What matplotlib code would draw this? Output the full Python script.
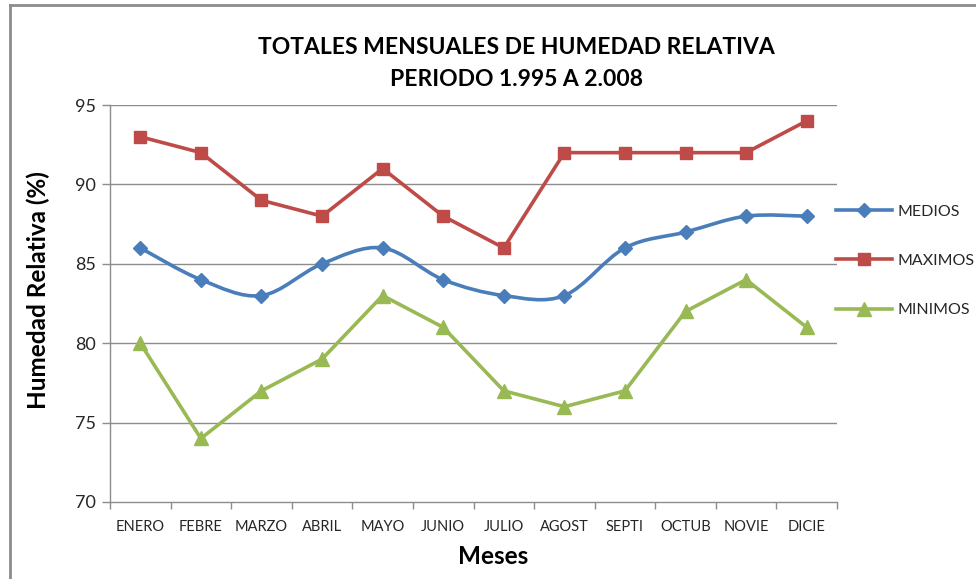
import matplotlib
matplotlib.use("Agg")
import matplotlib.pyplot as plt
import numpy as np
from matplotlib.path import Path
from matplotlib.patches import PathPatch
from matplotlib.lines import Line2D

plt.rcParams['font.family'] = ['Lato', 'DejaVu Sans']

meses = ["ENERO", "FEBRE", "MARZO", "ABRIL", "MAYO", "JUNIO",
         "JULIO", "AGOST", "SEPTI", "OCTUB", "NOVIE", "DICIE"]
medios = [86, 84, 83, 85, 86, 84, 83, 83, 86, 87, 88, 88]
maximos = [93, 92, 89, 88, 91, 88, 86, 92, 92, 92, 92, 94]
minimos = [80, 74, 77, 79, 83, 81, 77, 76, 77, 82, 84, 81]
y_ticks = [70, 75, 80, 85, 90, 95]

c_med = "#4A7EBB"
c_max = "#BE4B48"
c_min = "#98B954"
grid_c = "#8C8C8C"
text_c = "#262626"

fig = plt.figure(figsize=(9.76, 5.79), dpi=100)
ax = fig.add_axes([110 / 976, 1 - 502 / 579, 727 / 976, 397 / 579])

x = np.arange(len(meses))


def smooth_path(xs, ys, t=1 / 6):
    """Cubic Bezier path through the points (Catmull-Rom style control points)."""
    pts = np.column_stack([xs, ys]).astype(float)
    n = len(pts)
    verts = [pts[0]]
    codes = [Path.MOVETO]
    for i in range(n - 1):
        p0 = pts[i - 1] if i > 0 else pts[i]
        p1 = pts[i]
        p2 = pts[i + 1]
        p3 = pts[i + 2] if i + 2 < n else pts[i + 1]
        c1 = p1 + (p2 - p0) * t
        c2 = p2 - (p3 - p1) * t
        verts += [c1, c2, p2]
        codes += [Path.CURVE4] * 3
    return Path(verts, codes)


lw = 2.6
# MEDIOS: smoothed line
ax.add_patch(PathPatch(smooth_path(x, medios), fill=False, edgecolor=c_med,
                       lw=lw, zorder=3, capstyle='round', joinstyle='round'))
ax.plot(x, medios, ls='none', marker='D', ms=7.5, color=c_med, zorder=4)
# MAXIMOS and MINIMOS: straight segments
ax.plot(x, maximos, color=c_max, lw=lw, marker='s', ms=8, zorder=3)
ax.plot(x, minimos, color=c_min, lw=lw, marker='^', ms=9.5, zorder=3)

ax.set_xlim(-0.5, len(meses) - 0.5)
ax.set_ylim(70, 95)
ax.set_yticks(y_ticks)
ax.set_yticklabels([str(v) for v in y_ticks], fontsize=13, color=text_c)
ax.set_xticks(x)
ax.set_xticklabels(meses, fontsize=10.5, color=text_c)
ax.set_xticks(np.arange(-0.5, len(meses), 1), minor=True)
ax.tick_params(axis='x', which='major', length=0, pad=13)
ax.tick_params(axis='x', which='minor', length=5, color=grid_c, width=1)
ax.tick_params(axis='y', length=6, color=grid_c, width=1, pad=4)

for v in y_ticks[1:]:
    ax.axhline(v, color=grid_c, lw=1, zorder=1)

for s in ['top', 'right']:
    ax.spines[s].set_visible(False)
for s in ['left', 'bottom']:
    ax.spines[s].set_color(grid_c)
    ax.spines[s].set_linewidth(1)

fig.text(38 / 976, 1 - 290 / 579, "Humedad Relativa (%)", rotation=90,
         ha='center', va='center', fontsize=17.5, fontweight='bold', color='black')
fig.text(493 / 976, 1 - 557 / 579, "Meses",
         ha='center', va='center', fontsize=17.5, fontweight='bold', color='black')

fig.text(516 / 976, 1 - 48 / 579, "TOTALES MENSUALES DE HUMEDAD RELATIVA",
         ha='center', va='center', fontsize=16.5, fontweight='bold', color='black')
fig.text(516 / 976, 1 - 80 / 579, "PERIODO 1.995 A 2.008",
         ha='center', va='center', fontsize=16.5, fontweight='bold', color='black')

handles = [
    Line2D([], [], color=c_med, lw=lw, marker='D', ms=7.5),
    Line2D([], [], color=c_max, lw=lw, marker='s', ms=8),
    Line2D([], [], color=c_min, lw=lw, marker='^', ms=9.5),
]
fig.legend(handles, ["MEDIOS", "MAXIMOS", "MINIMOS"], loc='upper left',
           bbox_to_anchor=(822 / 976, 1 - 190 / 579), frameon=False,
           fontsize=11.5, handlelength=3.5, labelspacing=2.2, handletextpad=0.3,
           labelcolor=text_c)

# chart area frame
fig.add_artist(Line2D([9.5 / 976, 9.5 / 976], [0, 1 - 5 / 579],
                      transform=fig.transFigure, color="#8C8C8C", lw=2))
fig.add_artist(Line2D([9.5 / 976, 1], [1 - 5 / 579, 1 - 5 / 579],
                      transform=fig.transFigure, color="#8C8C8C", lw=2))

fig.savefig("out.png", dpi=100, facecolor='white')
